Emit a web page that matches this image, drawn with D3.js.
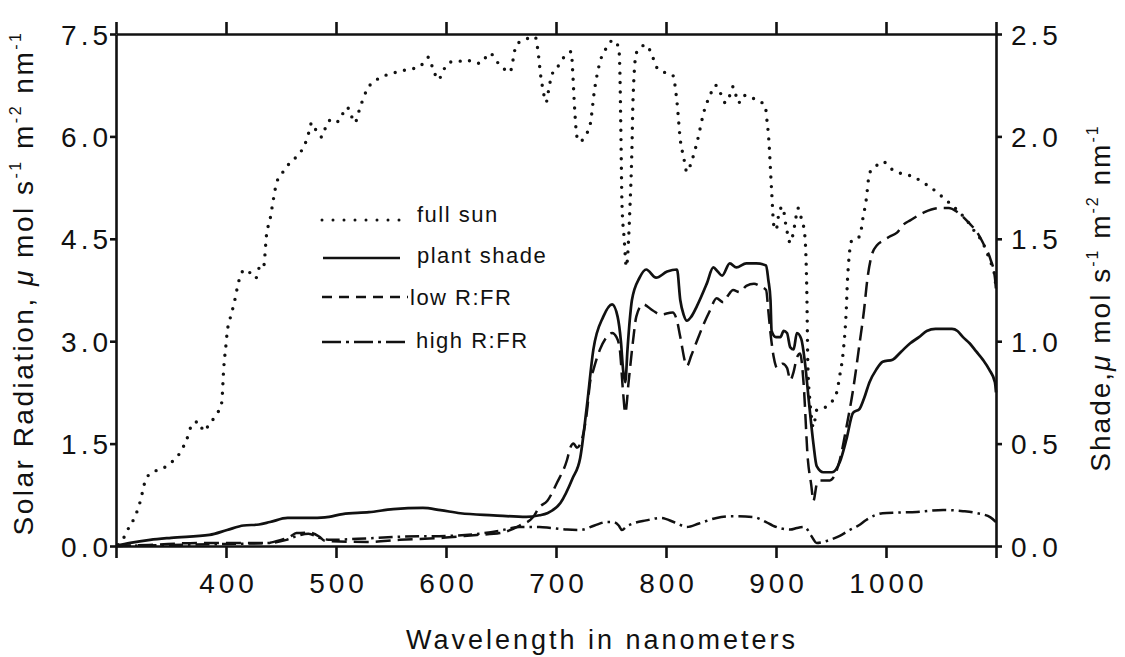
<!DOCTYPE html>
<html>
<head>
<meta charset="utf-8">
<script src="https://cdn.jsdelivr.net/npm/d3@7"></script>
<style>
  html, body { margin: 0; padding: 0; background: #fff; }
  svg { display: block; }
  text { font-family: "Liberation Sans", Arial, Helvetica, sans-serif; fill: #111; }
</style>
</head>
<body>
<svg id="chart" width="1125" height="657"></svg>
<script>
// ---------------- data (wavelength nm, value) ----------------
// full sun: left axis (umol s-1 m-2 nm-1)
const fullSun = [[302,0.02],[307,0.12],[312,0.28],[317,0.42],[322,0.65],[327,0.97],[333,1.08],[340,1.12],[346,1.17],[352,1.25],[358,1.36],[364,1.55],[370,1.8],[375,1.82],[380,1.68],[383,1.74],[390,1.9],[396,2.09],[398,2.62],[400,2.95],[401,3.12],[404,3.35],[407,3.53],[412,3.9],[417,4.05],[422,4.0],[427,3.92],[431,4.1],[434,4.08],[437,4.58],[440,4.78],[443,5.07],[446,5.32],[451,5.46],[458,5.61],[464,5.7],[469,5.8],[474,5.98],[478,6.2],[483,6.05],[487,5.99],[491,6.15],[495,6.24],[500,6.2],[505,6.3],[510,6.43],[514,6.3],[517,6.2],[522,6.43],[528,6.68],[537,6.83],[546,6.9],[555,6.94],[565,6.98],[576,7.02],[584,7.16],[588,7.0],[593,6.83],[598,6.98],[604,7.09],[612,7.1],[619,7.12],[625,7.08],[631,7.07],[640,7.22],[646,7.1],[652,7.0],[658,6.94],[664,7.34],[672,7.42],[681,7.46],[684,7.2],[686,6.9],[688,6.7],[691,6.5],[694,6.75],[697,6.93],[703,7.05],[709,7.2],[714,7.24],[715,7.0],[717,6.39],[719,6.0],[722,5.92],[726,6.0],[731,6.17],[735,6.68],[740,7.09],[746,7.3],[752,7.41],[757,7.3],[758,7.0],[759,6.05],[760,5.0],[762,4.5],[764,4.09],[766,4.5],[767,4.87],[769,5.8],[770,6.53],[773,7.22],[778,7.32],[782,7.34],[787,7.2],[792,7.0],[800,6.93],[806,6.9],[810,6.5],[813,5.95],[816,5.7],[819,5.48],[823,5.62],[828,5.9],[835,6.39],[840,6.6],[845,6.75],[849,6.65],[854,6.49],[858,6.6],[861,6.73],[864,6.58],[866,6.49],[870,6.6],[874,6.6],[882,6.53],[890,6.46],[892,6.2],[893,6.05],[896,5.21],[898,4.7],[900,4.63],[903,4.9],[906,4.97],[909,4.7],[913,4.44],[917,4.7],[920,4.95],[923,4.8],[926,4.58],[928,3.75],[929,2.62],[931,2.1],[934,1.74],[937,1.99],[942,2.02],[946,2.04],[950,2.1],[955,2.24],[958,2.5],[961,2.83],[964,3.5],[965,3.9],[969,4.48],[973,4.52],[976,4.53],[979,4.8],[982,5.07],[985,5.46],[990,5.55],[997,5.63],[1006,5.51],[1015,5.45],[1025,5.41],[1033,5.33],[1040,5.26],[1050,5.13],[1058,5.02],[1066,4.9],[1073,4.78],[1080,4.62],[1088,4.44],[1094,4.2],[1099,3.94],[1100,3.75]];

// shade curves: right axis
const plantShade = [[300,0],[313,0.015],[331,0.03],[350,0.04],[385,0.054],[401,0.078],[416,0.1],[430,0.105],[440,0.117],[456,0.137],[476,0.137],[490,0.14],[506,0.156],[530,0.165],[552,0.18],[579,0.186],[595,0.175],[613,0.16],[643,0.15],[673,0.142],[685,0.15],[692,0.16],[704,0.21],[715,0.33],[722,0.43],[728,0.68],[734,0.96],[743,1.12],[751,1.18],[756,1.12],[759,1.0],[761,0.86],[763,0.8],[765,0.96],[767,1.1],[769,1.2],[776,1.31],[782,1.35],[791,1.31],[801,1.34],[810,1.35],[813,1.2],[816,1.13],[819,1.1],[823,1.12],[828,1.17],[837,1.28],[843,1.36],[847,1.34],[851,1.32],[858,1.38],[864,1.36],[873,1.38],[882,1.38],[891,1.37],[893,1.3],[895,1.2],[896,1.05],[900,1.02],[904,1.02],[907,1.05],[910,1.04],[913,0.97],[916,0.96],[919,1.04],[923,1.01],[926,0.91],[930,0.7],[934,0.5],[937,0.39],[943,0.36],[951,0.36],[958,0.41],[964,0.52],[970,0.65],[976,0.67],[980,0.72],[985,0.8],[991,0.86],[997,0.9],[1006,0.91],[1014,0.95],[1022,0.99],[1030,1.02],[1037,1.05],[1045,1.06],[1052,1.06],[1060,1.06],[1065,1.05],[1070,1.02],[1076,0.99],[1082,0.95],[1088,0.91],[1094,0.86],[1099,0.8],[1100,0.75]];

const lowRFR = [[300,0],[330,0.005],[376,0.015],[400,0.015],[437,0.015],[450,0.03],[458,0.045],[464,0.063],[476,0.065],[485,0.045],[490,0.025],[528,0.02],[558,0.03],[597,0.04],[628,0.054],[649,0.063],[667,0.1],[679,0.14],[685,0.19],[692,0.22],[701,0.31],[710,0.42],[713,0.48],[716,0.5],[719,0.48],[724,0.53],[728,0.65],[731,0.8],[734,0.86],[740,0.96],[746,1.02],[751,1.04],[755,1.02],[758,0.96],[761,0.75],[763,0.65],[766,0.8],[770,1.0],[773,1.12],[779,1.18],[788,1.15],[795,1.13],[806,1.14],[810,1.1],[813,1.02],[819,0.88],[823,0.93],[828,1.0],[834,1.08],[840,1.15],[846,1.21],[852,1.19],[856,1.22],[861,1.25],[867,1.24],[873,1.27],[880,1.28],[885,1.27],[891,1.25],[893,1.15],[895,1.04],[898,0.92],[901,0.87],[906,0.89],[910,0.87],[913,0.81],[916,0.85],[919,0.92],[922,0.94],[925,0.8],[929,0.42],[932,0.3],[934,0.22],[937,0.3],[940,0.32],[949,0.32],[958,0.42],[964,0.58],[970,0.76],[976,0.99],[980,1.15],[983,1.3],[987,1.42],[992,1.47],[997,1.49],[1003,1.51],[1010,1.53],[1016,1.57],[1022,1.59],[1035,1.63],[1049,1.65],[1057,1.65],[1065,1.63],[1075,1.58],[1083,1.53],[1090,1.46],[1095,1.4],[1099,1.31],[1100,1.25]];

const highRFR = [[300,0],[350,0.005],[400,0.01],[440,0.015],[455,0.03],[465,0.05],[475,0.06],[485,0.04],[495,0.03],[520,0.035],[558,0.045],[604,0.05],[630,0.06],[649,0.075],[667,0.093],[685,0.093],[695,0.088],[710,0.08],[722,0.078],[735,0.1],[746,0.117],[752,0.117],[757,0.1],[760,0.078],[764,0.095],[770,0.11],[782,0.125],[795,0.137],[808,0.115],[819,0.093],[830,0.11],[846,0.137],[860,0.145],[879,0.142],[891,0.117],[897,0.1],[913,0.08],[919,0.088],[926,0.093],[932,0.05],[937,0.015],[943,0.02],[949,0.03],[958,0.05],[967,0.078],[975,0.1],[982,0.127],[990,0.15],[997,0.16],[1010,0.163],[1028,0.166],[1052,0.176],[1070,0.17],[1083,0.16],[1095,0.14],[1100,0.117]];

const xTicks = [300,400,500,600,700,800,900,1000,1100];
const xTickLabels = ["","400","500","600","700","800","900","1000",""];
const leftTicks = [0,1.5,3.0,4.5,6.0,7.5];
const rightTicks = [0,0.5,1.0,1.5,2.0,2.5];
const legendLabels = ["full sun","plant shade","low R:FR","high R:FR"];

// ---------------- layout ----------------
const svg = d3.select("#chart");
const L = 116, R = 996, T = 34, B = 546;
const x = d3.scaleLinear().domain([300,1100]).range([L,R]);
const yL = d3.scaleLinear().domain([0,7.5]).range([B,T]);
const yR = d3.scaleLinear().domain([0,2.5]).range([B,T]);

const styles = {
  sun:   {dash:"0 9.5", width:3.4, cap:"round"},
  shade: {dash:null, width:2.7, cap:"butt"},
  low:   {dash:"15 7", width:2.5, cap:"butt"},
  high:  {dash:"14 5 2.5 5", width:2.5, cap:"butt"}
};

// axes
const axisW = 2.6;
function styleAxis(g){
  g.select(".domain").attr("stroke","#111").attr("stroke-width",axisW);
  g.selectAll(".tick line").attr("stroke","#111").attr("stroke-width",axisW);
  g.selectAll("text").style("font-size","28px").style("letter-spacing","4px").attr("fill","#111");
}

const gB = svg.append("g").attr("transform",`translate(0,${B})`)
  .call(d3.axisBottom(x).tickValues(xTicks).tickSize(12).tickSizeOuter(0)
    .tickFormat((d,i)=>xTickLabels[i]));
styleAxis(gB);
gB.selectAll("text").attr("y",47).attr("dy","0").attr("dx","2");

const gT = svg.append("g").attr("transform",`translate(0,${T})`)
  .call(d3.axisTop(x).tickValues(xTicks).tickSize(12).tickSizeOuter(0).tickFormat(""));
styleAxis(gT);

const gL = svg.append("g").attr("transform",`translate(${L},0)`)
  .call(d3.axisLeft(yL).tickValues(leftTicks).tickSize(6).tickSizeOuter(0).tickFormat(d3.format(".1f")));
styleAxis(gL);
gL.selectAll("text").attr("x",-4).attr("dy","0.36em");

const gR = svg.append("g").attr("transform",`translate(${R},0)`)
  .call(d3.axisRight(yR).tickValues(rightTicks).tickSize(6).tickSizeOuter(0).tickFormat(d3.format(".1f")));
styleAxis(gR);
gR.selectAll("text").attr("x",15).attr("dy","0.36em");

// ---------------- curves ----------------
const lineL = d3.line().x(d=>x(d[0])).y(d=>yL(d[1])).curve(d3.curveMonotoneX);
const lineR = d3.line().x(d=>x(d[0])).y(d=>yR(d[1])).curve(d3.curveMonotoneX);

function drawCurve(data, gen, st){
  const p = svg.append("path").datum(data).attr("d",gen)
    .attr("fill","none").attr("stroke","#111")
    .attr("stroke-width",st.width).attr("stroke-linecap",st.cap)
    .attr("stroke-linejoin","round");
  if(st.dash) p.attr("stroke-dasharray",st.dash);
}
drawCurve(highRFR, lineR, styles.high);
drawCurve(lowRFR, lineR, styles.low);
drawCurve(plantShade, lineR, styles.shade);
drawCurve(fullSun, lineL, styles.sun);

// ---------------- legend ----------------
const legendRows = [
  {label:legendLabels[0], st:{dash:"0 11", width:3, cap:"round"}, x1:322, x2:400, ly:220, tx:417, ty:222},
  {label:legendLabels[1], st:{dash:null, width:2.6, cap:"butt"}, x1:323, x2:400, ly:258, tx:417, ty:263},
  {label:legendLabels[2], st:{dash:"10 7", width:2.4, cap:"butt"}, x1:322, x2:408, ly:297, tx:410, ty:305},
  {label:legendLabels[3], st:{dash:"19 5 3 5", width:2.4, cap:"butt"}, x1:322, x2:410, ly:342, tx:416, ty:348}
];
const lg = svg.append("g");
legendRows.forEach(r=>{
  const ln = lg.append("line").attr("x1",r.x1).attr("x2",r.x2).attr("y1",r.ly).attr("y2",r.ly)
    .attr("stroke","#111").attr("stroke-width",r.st.width).attr("stroke-linecap",r.st.cap);
  if(r.st.dash) ln.attr("stroke-dasharray",r.st.dash);
  lg.append("text").attr("x",r.tx).attr("y",r.ty).text(r.label)
    .style("font-size","22px").style("letter-spacing","1.5px");
});

// ---------------- axis titles ----------------
svg.append("text").attr("x",602).attr("y",649).attr("text-anchor","middle")
  .style("font-size","27px").style("letter-spacing","3px").text("Wavelength in nanometers");

function unitTitle(prefix, tx, ty, ls){
  const t = svg.append("text").attr("transform",`translate(${tx},${ty}) rotate(-90)`)
    .attr("text-anchor","middle").style("font-size","28px").style("letter-spacing",ls+"px");
  t.append("tspan").text(prefix);
  t.append("tspan").style("font-style","italic").text("\u03BC");
  t.append("tspan").text(" mol s");
  t.append("tspan").attr("dy",-12).style("font-size","16px").text("-1");
  t.append("tspan").attr("dy",12).text(" m");
  t.append("tspan").attr("dy",-12).style("font-size","16px").text("-2");
  t.append("tspan").attr("dy",12).text(" nm");
  t.append("tspan").attr("dy",-12).style("font-size","16px").text("-1");
}
unitTitle("Solar Radiation,  ", 33, 283, 2.5);
unitTitle("Shade,", 1110, 298, 2);
</script>
</body>
</html>
